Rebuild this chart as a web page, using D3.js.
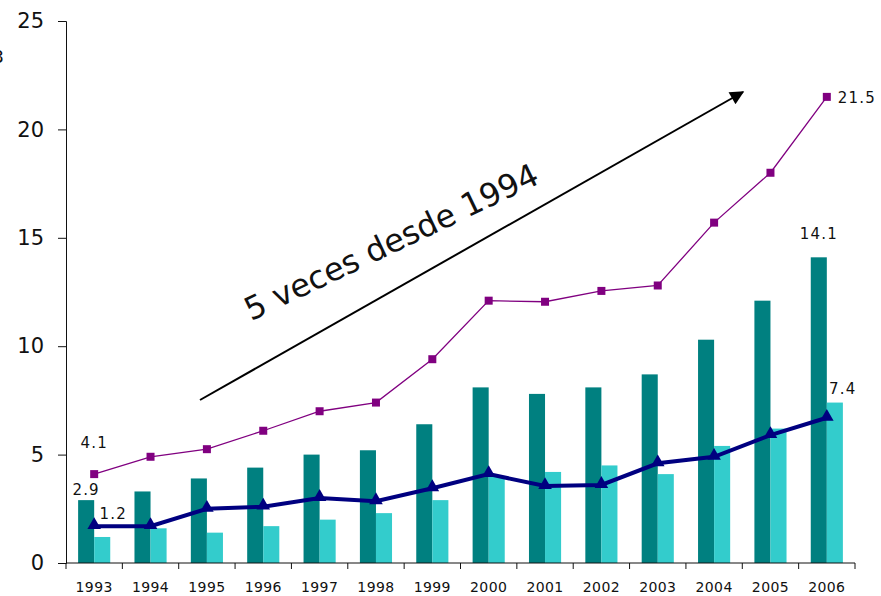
<!DOCTYPE html>
<html lang="es">
<head>
<meta charset="utf-8">
<script src="https://d3js.org/d3.v7.min.js"></script>
<style>
body { margin: 0; background: #fff; }
text { font-family: "DejaVu Sans", sans-serif; fill: #111; }
</style>
</head>
<body>
<script>
// chart values
const years = ["1993","1994","1995","1996","1997","1998","1999","2000","2001","2002","2003","2004","2005","2006"];
const darkBars  = [2.9, 3.3, 3.9, 4.4, 5.0, 5.2, 6.4, 8.1, 7.8, 8.1, 8.7, 10.3, 12.1, 14.1];
const lightBars = [1.2, 1.6, 1.4, 1.7, 2.0, 2.3, 2.9, 4.0, 4.2, 4.5, 4.1, 5.4, 6.2, 7.4];
const navyLine  = [1.7, 1.7, 2.5, 2.6, 3.0, 2.85, 3.45, 4.1, 3.55, 3.6, 4.6, 4.9, 5.9, 6.7];
const purpleLine = [4.1, 4.9, 5.25, 6.1, 7.0, 7.4, 9.4, 12.1, 12.05, 12.55, 12.8, 15.7, 18.0, 21.5];
const yTicks = [0, 5, 10, 15, 20, 25];

const width = 881, height = 596;
const mLeft = 66, mRight = 855, mTop = 21, mBottom = 563;

const svg = d3.select("body").append("svg")
    .attr("width", width)
    .attr("height", height);

const x = d3.scaleBand().domain(years).range([mLeft, mRight]).paddingInner(0.43).paddingOuter(0.215);
const xs = d3.scaleBand().domain(["a", "b"]).range([0, x.bandwidth()]);
const y = d3.scaleLinear().domain([0, 25]).range([mBottom, mTop]);
const cx = d => x(d) + x.bandwidth() / 2;

// bars
svg.append("g").selectAll("rect")
    .data(years)
    .join("rect")
    .attr("x", d => x(d))
    .attr("y", (d, i) => y(darkBars[i]))
    .attr("width", xs.bandwidth())
    .attr("height", (d, i) => mBottom - y(darkBars[i]))
    .attr("fill", "#008080");

svg.append("g").selectAll("rect")
    .data(years)
    .join("rect")
    .attr("x", d => x(d) + xs("b"))
    .attr("y", (d, i) => y(lightBars[i]))
    .attr("width", xs.bandwidth())
    .attr("height", (d, i) => mBottom - y(lightBars[i]))
    .attr("fill", "#33CCCC");

// axes
const yAxis = d3.axisLeft(y).tickValues(yTicks).tickSize(8).tickPadding(14);
svg.append("g")
    .attr("transform", `translate(${mLeft},0)`)
    .call(yAxis)
    .call(g => g.selectAll(".tick text").attr("font-size", 21).attr("font-family", "DejaVu Sans").attr("fill", "#111"))
    .call(g => g.selectAll("line, path").attr("stroke", "#111"));

// x axis: ticks at category boundaries
const step = x.step();
const xBounds = d3.range(years.length + 1).map(i => mLeft + i * step);
svg.append("line")
    .attr("x1", mLeft).attr("x2", mRight)
    .attr("y1", mBottom).attr("y2", mBottom)
    .attr("stroke", "#111");
svg.append("g").selectAll("line")
    .data(xBounds)
    .join("line")
    .attr("x1", d => d).attr("x2", d => d)
    .attr("y1", mBottom).attr("y2", mBottom + 6)
    .attr("stroke", "#111");
svg.append("g").selectAll("text")
    .data(years)
    .join("text")
    .attr("x", d => cx(d))
    .attr("y", 592)
    .attr("text-anchor", "middle")
    .attr("font-size", 14)
    .attr("letter-spacing", 0.4)
    .text(d => d);

// purple line with squares
const line = d3.line().x(d => cx(d[0])).y(d => y(d[1]));
svg.append("path")
    .datum(years.map((d, i) => [d, purpleLine[i]]))
    .attr("d", line)
    .attr("fill", "none")
    .attr("stroke", "#800080")
    .attr("stroke-width", 1.3);
svg.append("g").selectAll("rect")
    .data(years)
    .join("rect")
    .attr("x", d => cx(d) - 4)
    .attr("y", (d, i) => y(purpleLine[i]) - 4)
    .attr("width", 8).attr("height", 8)
    .attr("fill", "#800080");

// navy line with triangles
svg.append("path")
    .datum(years.map((d, i) => [d, navyLine[i]]))
    .attr("d", line)
    .attr("fill", "none")
    .attr("stroke", "#000080")
    .attr("stroke-width", 4);
const tri = d3.symbol().type(d3.symbolTriangle).size(80);
svg.append("g").selectAll("path")
    .data(years)
    .join("path")
    .attr("d", tri)
    .attr("transform", (d, i) => `translate(${cx(d)},${y(navyLine[i]) - 1})`)
    .attr("fill", "#000080");

// value labels
const last = years.length - 1;
const fmt = d3.format(".1f");
const labels = [
    {x: cx(years[0]), y: y(purpleLine[0]) - 26, t: purpleLine[0], a: "middle"},
    {x: x(years[0]) + xs("a") + xs.bandwidth() / 2, y: y(darkBars[0]) - 5, t: darkBars[0], a: "middle"},
    {x: cx(years[0]) + 19, y: y(lightBars[0]) - 18, t: lightBars[0], a: "middle"},
    {x: cx(years[last]) + 11, y: y(purpleLine[last]) + 6, t: purpleLine[last], a: "start"},
    {x: x(years[last]) + xs("a") + xs.bandwidth() / 2, y: y(darkBars[last]) - 18, t: darkBars[last], a: "middle"},
    {x: cx(years[last]) + 16, y: y(lightBars[last]) - 9, t: lightBars[last], a: "middle"}
];
svg.append("g").selectAll("text")
    .data(labels)
    .join("text")
    .attr("x", d => d.x)
    .attr("y", d => d.y)
    .attr("text-anchor", d => d.a)
    .attr("font-size", 15)
    .attr("letter-spacing", 1.2)
    .text(d => fmt(d.t));

// cut-off label at the left edge
svg.append("text")
    .attr("x", 4).attr("y", 63)
    .attr("text-anchor", "end")
    .attr("font-size", 18)
    .text("3");

// arrow annotation
svg.append("defs").append("marker")
    .attr("id", "head")
    .attr("viewBox", "0 0 10 10")
    .attr("refX", 9).attr("refY", 5)
    .attr("markerWidth", 17).attr("markerHeight", 14)
    .attr("markerUnits", "userSpaceOnUse")
    .attr("orient", "auto")
    .append("path")
    .attr("d", "M0,0L10,5L0,10Z")
    .attr("fill", "#000");
svg.append("line")
    .attr("x1", 200).attr("y1", 400)
    .attr("x2", 743).attr("y2", 92)
    .attr("stroke", "#000")
    .attr("stroke-width", 2)
    .attr("marker-end", "url(#head)");

svg.append("text")
    .attr("transform", "translate(396,252) rotate(-25.5)")
    .attr("text-anchor", "middle")
    .attr("font-size", 32)
    .attr("font-family", "Open Sans, sans-serif")
    .text("5 veces desde 1994");
</script>
</body>
</html>
